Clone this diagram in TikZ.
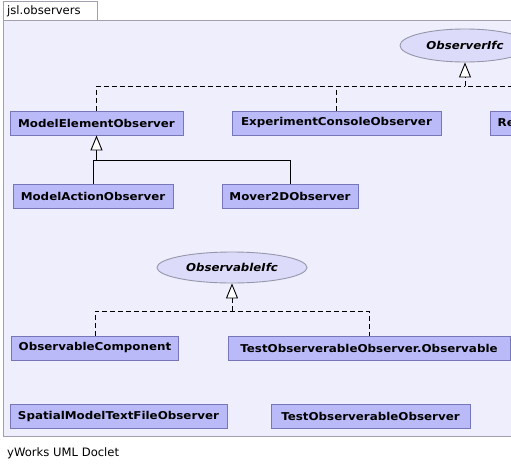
\documentclass[tikz,border=0pt]{standalone}
\usepackage{fontspec}
\setmainfont{DejaVu Sans}
\newfontfamily\uireg{DejaVu Sans}
\newfontfamily\uibold[FakeStretch=1.1]{DejaVu Sans Bold}
\newfontfamily\uiboldit[FakeStretch=1.08]{DejaVu Sans Bold Oblique}
\usetikzlibrary{arrows.meta,shapes.geometric}
\definecolor{pkgbg}{RGB}{238,238,252}
\definecolor{pkgline}{RGB}{160,160,176}
\definecolor{clsfill}{RGB}{186,186,248}
\definecolor{clsline}{RGB}{118,118,184}
\definecolor{ifcfill}{RGB}{220,220,250}
\definecolor{ifcline}{RGB}{150,150,172}
\tikzset{
  clsfont/.style={font=\uibold\fontsize{10.8}{13}\selectfont},
  cls/.style={draw=clsline, fill=clsfill, line width=0.9pt, inner sep=0pt,
    minimum height=24pt, clsfont},
  ifc/.style={ellipse, draw=ifcline, fill=ifcfill, line width=0.9pt, inner sep=0pt,
    font=\uiboldit\fontsize{10.9}{13}\selectfont},
  lbl/.style={anchor=west, inner sep=0pt, font=\uireg\fontsize{11.6}{14}\selectfont},
  gen/.style={-{Triangle[length=15pt,width=12pt,fill=white]}, line width=0.9pt},
  real/.style={dash pattern=on 5pt off 3pt, line width=0.9pt},
  inh/.style={line width=0.9pt}
}
\begin{document}
\begin{tikzpicture}[x=1pt,y=-1pt]
\useasboundingbox (0,0) rectangle (511,474);
\clip (0,0) rectangle (511,474);
\fill[white] (0,0) rectangle (511,474);
% package frame
\draw[pkgline, fill=pkgbg, line width=1pt] (3,20) rectangle (530,436);
\draw[pkgline, fill=white, line width=1pt] (3,1.5) rectangle (97,20);
\node[lbl] (pkg) at (7,11.5) {jsl.observers};
% interfaces
\node[ifc, minimum width=130pt, minimum height=33pt] (obsifc) at (465,45.5) {ObserverIfc};
\node[ifc, minimum width=150pt, minimum height=31pt] (oblifc) at (232,267.5) {ObservableIfc};
% classes
\node[cls, minimum width=173pt] (meo) at (96.5,123) {ModelElementObserver};
\node[cls, minimum width=209pt] (eco) at (336.5,123) {ExperimentConsoleObserver};
\node[cls, minimum width=60pt, anchor=west] (re) at (490,123) {};
\node[clsfont, anchor=west, inner sep=0pt] (relbl) at (497.5,123) {Re};
\node[cls, minimum width=160pt] (mao) at (93,196.5) {ModelActionObserver};
\node[cls, minimum width=136pt] (m2d) at (290,196.5) {Mover2DObserver};
\node[cls, minimum width=167pt] (obc) at (95,348) {ObservableComponent};
\node[cls, minimum width=282pt] (too) at (369,348) {TestObserverableObserver.Observable};
\node[cls, minimum width=217pt] (smt) at (118.5,416.5) {SpatialModelTextFileObserver};
\node[cls, minimum width=199pt] (tob) at (370.5,416.5) {TestObserverableObserver};
% footer
\node[lbl] (foot) at (7,453) {yWorks UML Doclet};
% connectors: ObserverIfc realizations
\coordinate (b1) at (465,86);
\draw[real] (meo.north) |- (b1);
\draw[real] (eco.north) -- (eco.north |- b1);
\draw[real] (re.north) |- (b1);
\draw[real, gen] (b1) -- (obsifc.south);
% ModelElementObserver generalization
\coordinate (b2) at (96.5,160);
\draw[inh] (mao.north) |- (m2d.north |- b2) -- (m2d.north);
\draw[inh, gen] (b2) -- (meo.south);
% ObservableIfc realizations
\coordinate (b3) at (232,311);
\draw[real] (obc.north) |- (too.north |- b3) -- (too.north);
\draw[real, gen] (b3) -- (oblifc.south);
\end{tikzpicture}
\end{document}
